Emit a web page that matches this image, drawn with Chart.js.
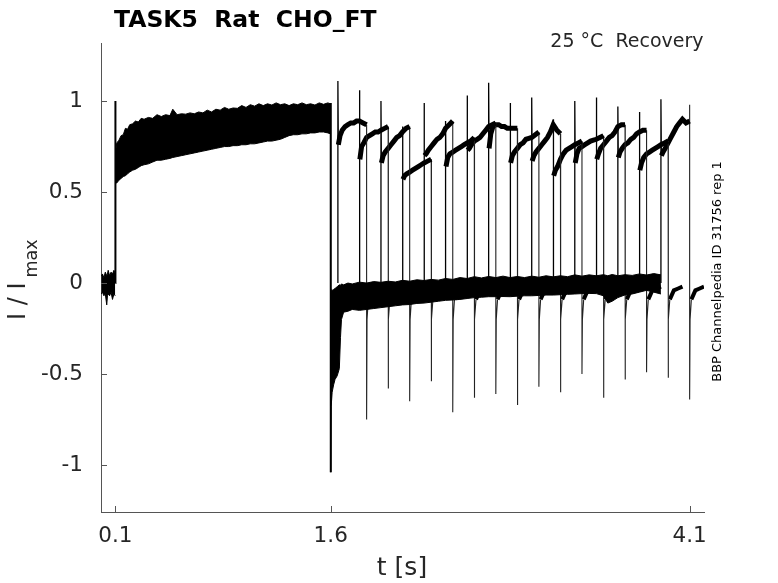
<!DOCTYPE html>
<html>
<head>
<meta charset="utf-8">
<script src="https://cdn.jsdelivr.net/npm/chart.js@4.4.1/dist/chart.umd.min.js"></script>
<style>
html,body{margin:0;padding:0;background:#fff;}
#wrap{width:778px;height:583px;}
</style>
</head>
<body>
<div id="wrap"><canvas id="c" width="778" height="583"></canvas></div>
<script>
// ---------- data ----------
const xTicks = [0.1, 1.6, 4.1];
const xTickLabels = ['0.1', '1.6', '4.1'];
const yTicks = [-1, -0.5, 0, 0.5, 1];
const yTickLabels = ['-1', '-0.5', '0', '0.5', '1'];

// holding before conditioning pulse (envelope of all sweeps)
const preT     = [0.002, 0.01, 0.02, 0.03, 0.04, 0.045, 0.05, 0.06, 0.07, 0.08, 0.09, 0.099];
const preUpper = [0.04, 0.05, 0.03, 0.06, 0.04, 0.05, 0.07, 0.04, 0.06, 0.05, 0.07, 0.05];
const preLower = [-0.06, -0.05, -0.07, -0.06, -0.12, -0.07, -0.06, -0.07, -0.05, -0.09, -0.06, -0.07];

// conditioning pulse (envelope of all sweeps)
const condStepPeak = 1.0;
const condT = [0.101, 0.11, 0.125, 0.14, 0.155, 0.17, 0.185, 0.2, 0.22, 0.24, 0.26, 0.28, 0.3, 0.33, 0.36, 0.39, 0.42, 0.45, 0.48, 0.5, 0.53, 0.56, 0.59, 0.62, 0.65, 0.68, 0.71, 0.74, 0.77, 0.8, 0.83, 0.86, 0.89, 0.92, 0.95, 0.98, 1.01, 1.04, 1.07, 1.1, 1.13, 1.16, 1.19, 1.22, 1.25, 1.28, 1.31, 1.34, 1.37, 1.4, 1.43, 1.46, 1.49, 1.52, 1.55, 1.58, 1.598];
const condUpper = [0.72, 0.77, 0.785, 0.81, 0.815, 0.85, 0.845, 0.87, 0.875, 0.89, 0.885, 0.905, 0.90, 0.91, 0.905, 0.925, 0.915, 0.925, 0.92, 0.955, 0.925, 0.93, 0.928, 0.935, 0.93, 0.94, 0.935, 0.95, 0.94, 0.955, 0.95, 0.965, 0.955, 0.962, 0.96, 0.975, 0.965, 0.98, 0.972, 0.985, 0.975, 0.985, 0.978, 0.99, 0.98, 0.985, 0.975, 0.985, 0.98, 0.99, 0.98, 0.985, 0.978, 0.99, 0.982, 0.99, 0.985];
const condLower = [0.55, 0.55, 0.565, 0.575, 0.585, 0.59, 0.60, 0.61, 0.62, 0.625, 0.635, 0.645, 0.65, 0.655, 0.665, 0.675, 0.675, 0.68, 0.685, 0.69, 0.695, 0.70, 0.705, 0.71, 0.715, 0.72, 0.725, 0.73, 0.735, 0.74, 0.745, 0.75, 0.75, 0.755, 0.755, 0.76, 0.76, 0.765, 0.765, 0.77, 0.775, 0.78, 0.78, 0.785, 0.79, 0.80, 0.81, 0.815, 0.815, 0.82, 0.82, 0.825, 0.825, 0.83, 0.83, 0.825, 0.82];
const condEndTop = 0.99;

// holding after conditioning pulse (envelope of all sweeps, incl. tail)
const holdT = [1.6005, 1.603, 1.61, 1.62, 1.63, 1.645, 1.66, 1.668, 1.675, 1.69, 1.72, 1.75, 1.8, 1.85, 1.9, 1.95, 2.0, 2.05, 2.1, 2.15, 2.2, 2.25, 2.3, 2.35, 2.4, 2.45, 2.5, 2.55, 2.6, 2.65, 2.7, 2.75, 2.8, 2.85, 2.9, 2.95, 3.0, 3.05, 3.1, 3.15, 3.2, 3.25, 3.3, 3.35, 3.4, 3.45, 3.5, 3.53, 3.56, 3.6, 3.65, 3.7, 3.75, 3.8, 3.85, 3.9];
const holdUpper = [-0.03, -0.04, -0.04, -0.035, -0.03, -0.02, -0.01, -0.012, -0.005, -0.01, 0.0, -0.005, 0.005, 0.0, 0.008, 0.004, 0.01, 0.006, 0.015, 0.01, 0.018, 0.014, 0.02, 0.016, 0.025, 0.02, 0.03, 0.025, 0.035, 0.028, 0.036, 0.03, 0.038, 0.03, 0.036, 0.03, 0.038, 0.032, 0.04, 0.034, 0.04, 0.035, 0.045, 0.038, 0.045, 0.04, 0.046, 0.04, 0.047, 0.04, 0.046, 0.042, 0.05, 0.044, 0.052, 0.045];
const holdLower = [-1.04, -0.68, -0.60, -0.56, -0.53, -0.51, -0.47, -0.30, -0.20, -0.16, -0.155, -0.145, -0.15, -0.145, -0.14, -0.135, -0.13, -0.125, -0.12, -0.118, -0.112, -0.11, -0.105, -0.10, -0.095, -0.093, -0.09, -0.085, -0.08, -0.078, -0.075, -0.075, -0.074, -0.075, -0.072, -0.07, -0.07, -0.068, -0.066, -0.066, -0.064, -0.062, -0.06, -0.058, -0.057, -0.058, -0.07, -0.11, -0.10, -0.08, -0.065, -0.06, -0.05, -0.04, -0.05, -0.06];

// recovery test pulses, one per sweep
const onsetT    = [1.65, 1.80, 1.95, 2.10, 2.25, 2.40, 2.55, 2.70, 2.85, 3.00, 3.15, 3.30, 3.45, 3.60, 3.75, 3.90];
const onsetPeak = [1.11, 1.06, 1.00, 0.86, 0.99, 0.89, 1.03, 1.10, 0.99, 1.02, 0.90, 1.00, 1.02, 0.97, 0.94, 1.01];
const pulseRelT = [0.003, 0.015, 0.03, 0.05, 0.07, 0.09, 0.11, 0.13, 0.15, 0.175, 0.2];
const pulseVals = [
  [0.76, 0.81, 0.84, 0.86, 0.87, 0.88, 0.88, 0.89, 0.89, 0.88, 0.87],
  [0.68, 0.75, 0.77, 0.80, 0.81, 0.82, 0.83, 0.83, 0.84, 0.85, 0.86],
  [0.66, 0.70, 0.72, 0.74, 0.76, 0.78, 0.80, 0.81, 0.83, 0.85, 0.86],
  [0.57, 0.59, 0.60, 0.61, 0.62, 0.63, 0.64, 0.65, 0.66, 0.67, 0.68],
  [0.70, 0.71, 0.73, 0.75, 0.77, 0.79, 0.80, 0.82, 0.85, 0.87, 0.89],
  [0.64, 0.69, 0.71, 0.72, 0.73, 0.74, 0.75, 0.76, 0.77, 0.78, 0.80],
  [0.73, 0.74, 0.76, 0.78, 0.79, 0.80, 0.82, 0.84, 0.86, 0.87, 0.88],
  [0.74, 0.82, 0.86, 0.87, 0.87, 0.86, 0.86, 0.85, 0.85, 0.85, 0.85],
  [0.66, 0.70, 0.72, 0.74, 0.76, 0.77, 0.79, 0.795, 0.80, 0.815, 0.83],
  [0.67, 0.70, 0.72, 0.74, 0.76, 0.78, 0.80, 0.83, 0.87, 0.84, 0.82],
  [0.59, 0.62, 0.64, 0.68, 0.71, 0.73, 0.74, 0.75, 0.76, 0.77, 0.78],
  [0.66, 0.71, 0.74, 0.75, 0.76, 0.77, 0.78, 0.785, 0.79, 0.80, 0.81],
  [0.68, 0.71, 0.74, 0.76, 0.78, 0.80, 0.81, 0.83, 0.86, 0.87, 0.87],
  [0.69, 0.72, 0.74, 0.76, 0.77, 0.79, 0.80, 0.82, 0.83, 0.84, 0.84],
  [0.62, 0.66, 0.69, 0.71, 0.72, 0.73, 0.74, 0.75, 0.76, 0.77, 0.78],
  [0.70, 0.72, 0.74, 0.77, 0.80, 0.83, 0.86, 0.88, 0.90, 0.88, 0.89]
];
const endSpike = [null, null, null, null, null, null, null, null, null, null, null, null, null, null, null, 0.98];
const tailMin  = [-0.75, -0.58, -0.65, -0.54, -0.71, -0.63, -0.61, -0.67, -0.57, -0.60, -0.50, -0.63, -0.53, -0.49, -0.52, -0.64];
const postRelT = [0.003, 0.012, 0.04, 0.07, 0.1];
const postVals = [-0.20, -0.09, -0.04, -0.03, -0.02];

// ---------- build datasets ----------
const K = '#000';
const datasets = [];
function pts(ts, vs, dt) { return ts.map((t, i) => ({x: t + (dt || 0), y: vs[i]})); }
function lineDs(data, width, color) {
  return {data, borderColor: color || K, borderWidth: width, pointRadius: 0, fill: false,
          tension: 0, borderJoinStyle: 'miter', borderCapStyle: 'butt'};
}
function band(ts, up, lo) {
  datasets.push(lineDs(pts(ts, up), 1));
  const l = lineDs(pts(ts, lo), 1);
  l.fill = '-1'; l.backgroundColor = K;
  datasets.push(l);
}
band(preT, preUpper, preLower);
band(condT, condUpper, condLower);
band(holdT, holdUpper, holdLower);

// conditioning step edges
datasets.push(lineDs([{x: condT[0] - 0.001, y: 0}, {x: condT[0] - 0.001, y: condStepPeak}, {x: condT[0], y: condLower[0]}], 2));
datasets.push(lineDs([{x: holdT[0] - 0.0005, y: condEndTop}, {x: holdT[0], y: holdLower[0]}], 2));

onsetT.forEach((t0, k) => {
  const v = pulseVals[k];
  const tEnd = t0 + pulseRelT[pulseRelT.length - 1];
  // onset edge
  datasets.push(lineDs([{x: t0, y: 0}, {x: t0, y: onsetPeak[k]}, {x: t0 + pulseRelT[0], y: v[0]}], 1.3));
  // pulse body
  datasets.push(lineDs(pts(pulseRelT, v, t0), 5));
  // offset edge and tail
  const e = [{x: tEnd, y: v[v.length - 1]}];
  if (endSpike[k] !== null) e.push({x: tEnd, y: endSpike[k]});
  e.push({x: tEnd, y: tailMin[k]});
  e.push({x: tEnd + postRelT[0], y: postVals[0]});
  e.push({x: tEnd + postRelT[1], y: postVals[1]});
  datasets.push(lineDs(e, 1.1, '#222'));
  // post-pulse holding
  datasets.push(lineDs(pts(postRelT.slice(1), postVals.slice(1), tEnd), 4));
});

// ---------- decorations ----------
const TXT = '#262626';
const deco = {
  id: 'deco',
  afterDraw(chart) {
    const ctx = chart.ctx;
    const {left, top, bottom} = chart.chartArea;
    const xs = chart.scales.x, ys = chart.scales.y;
    ctx.save();
    ctx.strokeStyle = '#555'; ctx.lineWidth = 1;
    ctx.beginPath();
    xTicks.forEach(v => { const p = Math.round(xs.getPixelForValue(v)) + 0.5; ctx.moveTo(p, bottom); ctx.lineTo(p, bottom - 6); });
    yTicks.forEach(v => { const p = Math.round(ys.getPixelForValue(v)) + 0.5; ctx.moveTo(left, p); ctx.lineTo(left + 6, p); });
    ctx.stroke();

    ctx.fillStyle = '#000';
    ctx.textBaseline = 'alphabetic';
    ctx.textAlign = 'left';
    ctx.font = 'bold 23.5px "DejaVu Sans"';
    ctx.fillText('TASK5  Rat  CHO_FT', 114, 27);

    ctx.fillStyle = TXT;
    ctx.textAlign = 'right';
    ctx.font = '19px "DejaVu Sans"';
    ctx.fillText('25 °C  Recovery', 703.5, 47);

    ctx.textAlign = 'center';
    ctx.font = '25px "DejaVu Sans"';
    ctx.fillText('t [s]', 402, 574.5);

    // right vertical note
    ctx.save();
    ctx.translate(721, 271.5);
    ctx.rotate(-Math.PI / 2);
    ctx.fillStyle = '#000';
    ctx.font = '13px "DejaVu Sans"';
    ctx.textAlign = 'center';
    ctx.fillText('BBP Channelpedia ID 31756 rep 1', 0, 0);
    ctx.restore();

    // y label with subscript
    ctx.save();
    ctx.translate(25, 320);
    ctx.rotate(-Math.PI / 2);
    ctx.textAlign = 'left';
    ctx.font = '24px "DejaVu Sans"';
    ctx.fillText('I / I', 0, 0);
    const w = ctx.measureText('I / I').width;
    ctx.font = '17.5px "DejaVu Sans"';
    ctx.fillText('max', w + 5, 12);
    ctx.restore();
    ctx.restore();
  }
};

Chart.defaults.font.family = '"DejaVu Sans"';
new Chart(document.getElementById('c'), {
  type: 'line',
  data: {datasets},
  options: {
    responsive: false,
    animation: false,
    devicePixelRatio: 1,
    parsing: true,
    layout: {padding: {left: 0, right: 74, top: 43, bottom: 0}},
    plugins: {legend: {display: false}, tooltip: {enabled: false}, title: {display: false}},
    scales: {
      x: {
        type: 'linear', position: 'bottom', min: 0, max: 4.2,
        grid: {display: false},
        border: {display: true, color: '#555', width: 1},
        afterBuildTicks: s => { s.ticks = xTicks.map(v => ({value: v})); },
        afterFit: s => { s.height = 71; },
        ticks: {
          autoSkip: false, maxRotation: 0, padding: 4, color: TXT,
          font: {size: 21.5},
          callback: (v) => { const i = xTicks.indexOf(v); return i >= 0 ? xTickLabels[i] : ''; }
        }
      },
      y: {
        type: 'linear', position: 'left', min: -1.258, max: 1.319,
        grid: {display: false},
        border: {display: true, color: '#555', width: 1},
        afterBuildTicks: s => { s.ticks = yTicks.map(v => ({value: v})); },
        afterFit: s => { s.width = 101; },
        ticks: {
          autoSkip: false, padding: 10, color: TXT,
          font: {size: 21.5},
          callback: (v) => { const i = yTicks.indexOf(v); return i >= 0 ? yTickLabels[i] : ''; }
        }
      }
    }
  },
  plugins: [deco]
});
</script>
</body>
</html>
